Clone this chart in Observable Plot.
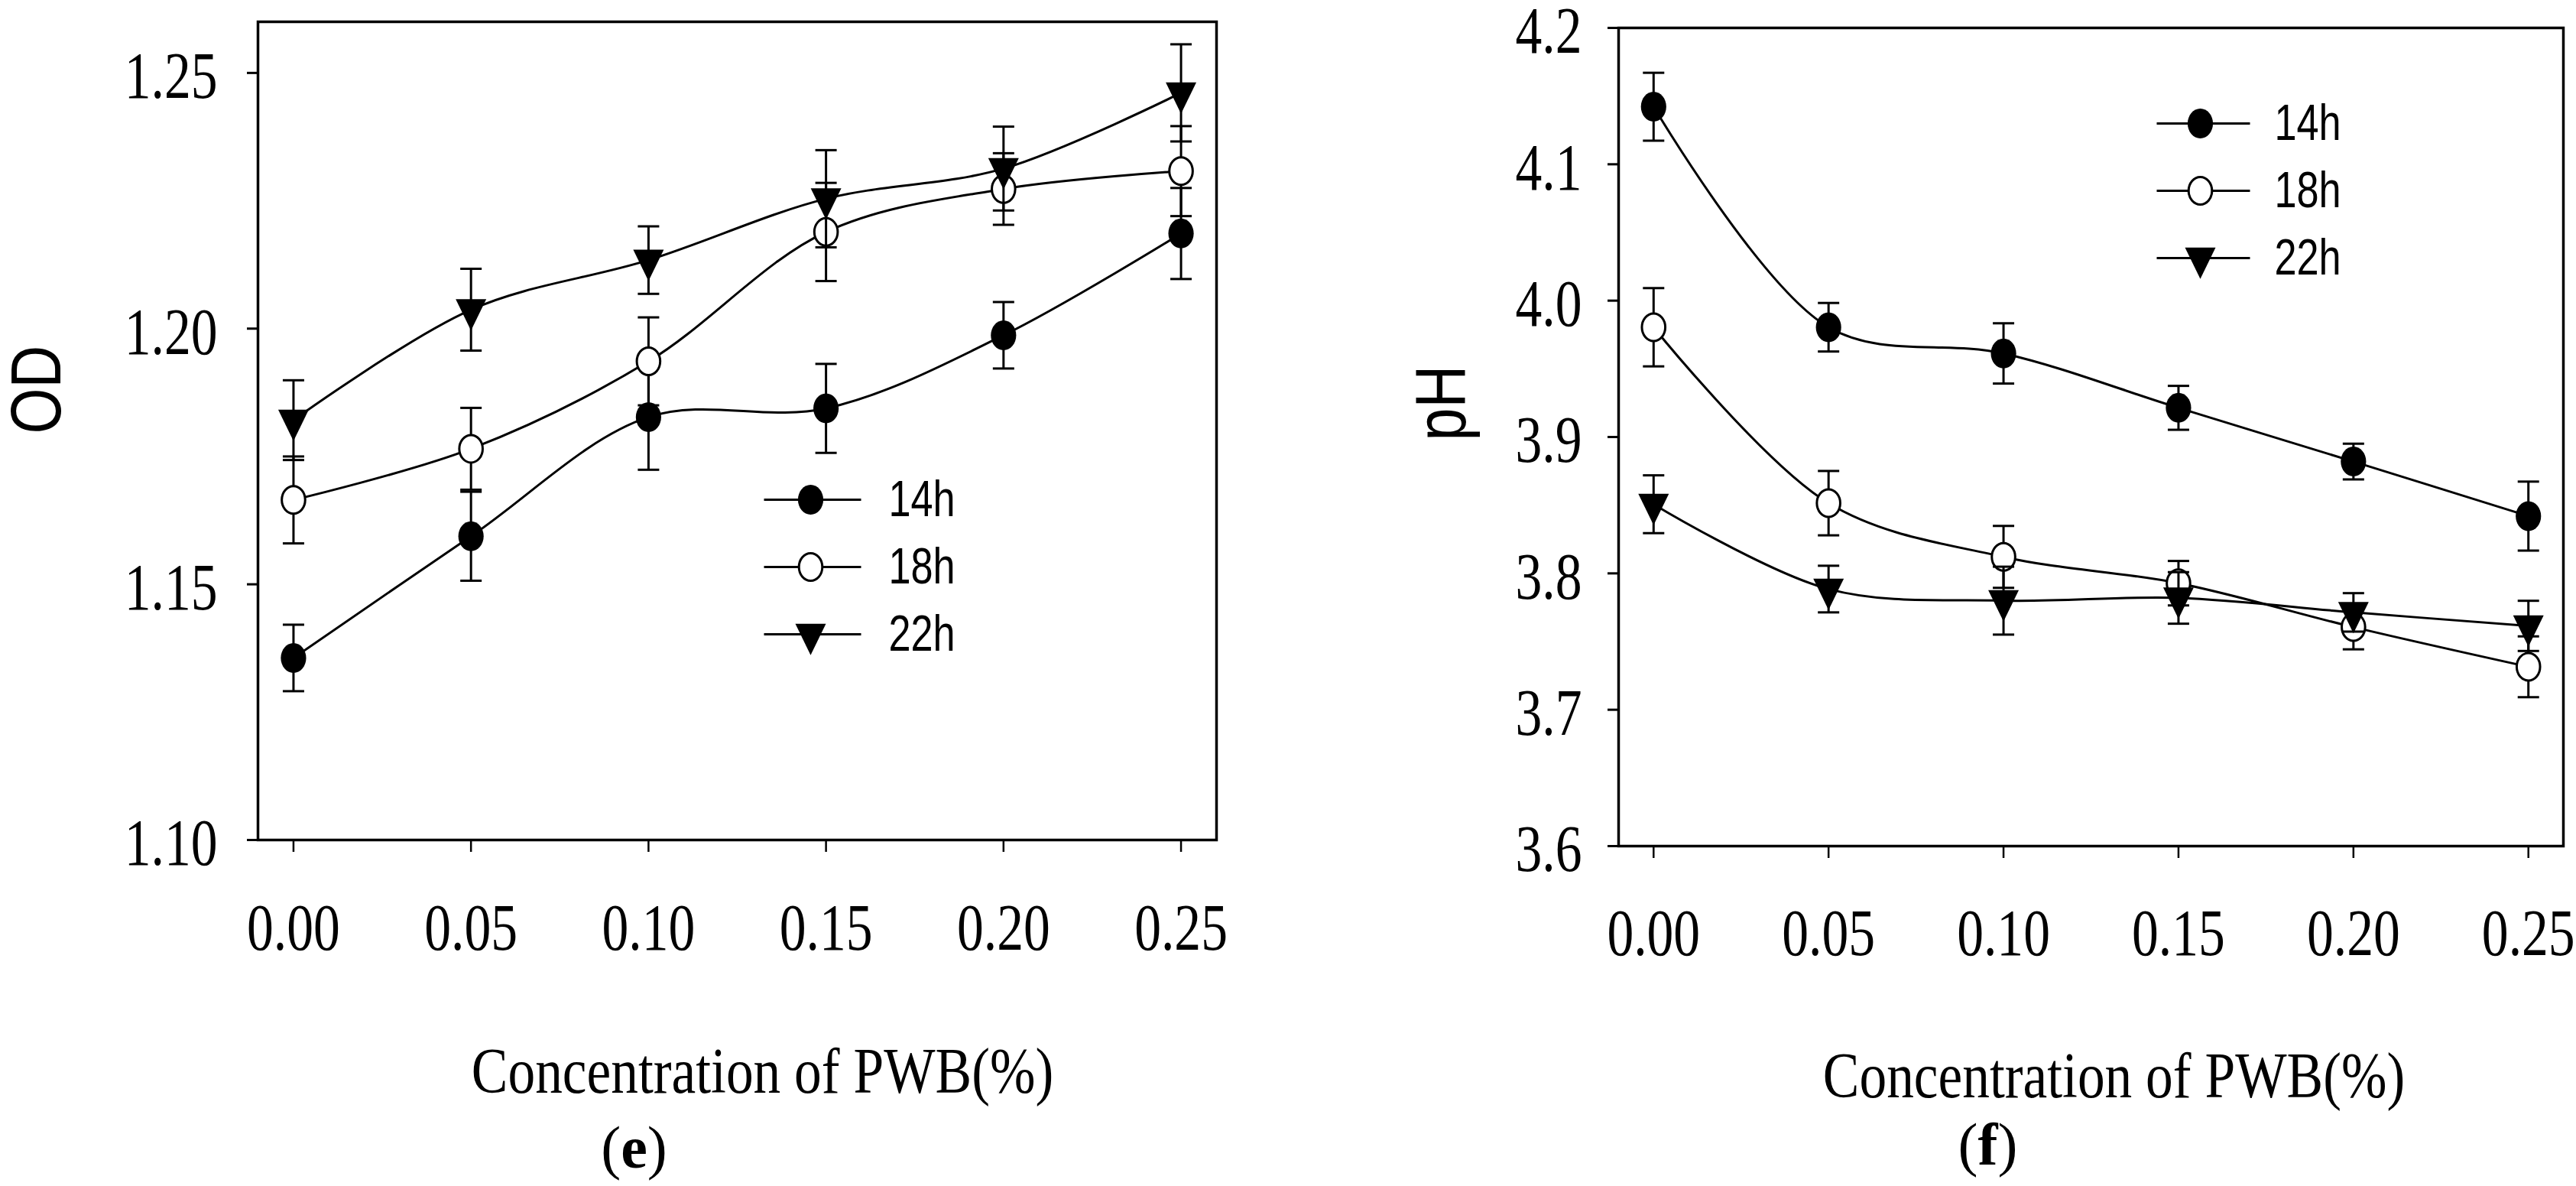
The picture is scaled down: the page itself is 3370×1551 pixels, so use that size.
<!DOCTYPE html>
<html><head><meta charset="utf-8">
<script src="https://cdn.jsdelivr.net/npm/d3@7"></script>
<script src="https://cdn.jsdelivr.net/npm/@observablehq/plot@0.6"></script>
<style>
html,body{margin:0;padding:0;background:#fff;}
#wrap{display:flex;width:3370px;height:1551px;overflow:hidden;}
#wrap svg{display:block;flex:none;}
</style></head><body><div id="wrap"></div>
<script>
// ---- data ----
const conc = [0.00, 0.05, 0.10, 0.15, 0.20, 0.25];
const seriesNames = ["14h", "18h", "22h"];

const od14 = [1.1356, 1.1594, 1.1827, 1.1844, 1.1987, 1.2186];
const od14Err = [0.0065, 0.0087, 0.0103, 0.0087, 0.0065, 0.0089];
const od18 = [1.1665, 1.1765, 1.1936, 1.2189, 1.2273, 1.2308];
const od18Err = [0.0085, 0.0080, 0.0086, 0.0096, 0.0070, 0.0088];
const od22 = [1.1821, 1.2037, 1.2134, 1.2254, 1.2313, 1.2461];
const od22Err = [0.0078, 0.0080, 0.0066, 0.0095, 0.0082, 0.0095];

const ph14 = [4.1422, 3.9805, 3.9613, 3.9214, 3.8820, 3.8420];
const ph14Err = [0.0249, 0.0178, 0.0221, 0.0161, 0.0131, 0.0253];
const ph18 = [3.9805, 3.8515, 3.8121, 3.7928, 3.7606, 3.7315];
const ph18Err = [0.0287, 0.0236, 0.0227, 0.0163, 0.0163, 0.0223];
const ph22 = [3.8507, 3.7885, 3.7800, 3.7820, 3.7714, 3.7615];
const ph22Err = [0.0212, 0.0171, 0.0249, 0.0189, 0.0141, 0.0184];

const odTicks = [1.10, 1.15, 1.20, 1.25];
const phTicks = [3.6, 3.7, 3.8, 3.9, 4.0, 4.1, 4.2];
const xTitle = "Concentration of PWB(%)";

// ---- symbols ----
const K = 0.5523;
const ellipse = {draw(ctx, size) {
  const ry = Math.sqrt(size / Math.PI), rx = ry * 0.85;
  ctx.moveTo(rx, 0);
  ctx.bezierCurveTo(rx, ry * K, rx * K, ry, 0, ry);
  ctx.bezierCurveTo(-rx * K, ry, -rx, ry * K, -rx, 0);
  ctx.bezierCurveTo(-rx, -ry * K, -rx * K, -ry, 0, -ry);
  ctx.bezierCurveTo(rx * K, -ry, rx, -ry * K, rx, 0);
  ctx.closePath();
}};
const triDown = {draw(ctx, size) {
  const r = Math.sqrt(size / Math.PI);
  ctx.moveTo(-1.333 * r, -0.913 * r);
  ctx.lineTo(1.333 * r, -0.913 * r);
  ctx.lineTo(0, 1.82 * r);
  ctx.closePath();
}};
const capSym = {draw(ctx, size) {
  const r = Math.sqrt(size / Math.PI);
  ctx.moveTo(-r, 0); ctx.lineTo(r, 0);
}};
const hline = (a, b) => ({draw(ctx) { ctx.moveTo(a, 0); ctx.lineTo(b, 0); }});

const styles = {
  "14h": {symbol: ellipse, r: 19.5, fill: "black", strokeWidth: 0},
  "18h": {symbol: ellipse, r: 18, fill: "white", strokeWidth: 3},
  "22h": {symbol: triDown, r: 15, fill: "black", strokeWidth: 0}
};

function makePanel(cfg) {
  const marks = [
    Plot.frame({stroke: "black", strokeWidth: 3.5}),
    // tick lines only
    Plot.axisY({ticks: cfg.yTicks, tickFormat: () => "", tickSize: 14, tickPadding: 0,
      fontSize: 1, strokeWidth: 3, label: null}),
    // tick labels only
    Plot.axisY({ticks: cfg.yTicks, tickFormat: d3.format(cfg.yFmt), tickSize: 0, tickPadding: 14 + cfg.yPad, dy: 5,
      fontSize: 87, fontFamily: "Liberation Serif", fill: "black", label: null}),
    Plot.axisX({ticks: conc, tickFormat: d3.format(".2f"), tickSize: 16, tickPadding: cfg.xPad,
      fontSize: 87, fontFamily: "Liberation Serif", strokeWidth: 2.5, label: null})
  ];
  cfg.series.forEach((vals, si) => {
    const name = seriesNames[si];
    const st = styles[name];
    const data = vals.map((v, i) => ({x: conc[i], y: v, e: cfg.errs[si][i]}));
    marks.push(Plot.line(data, {x: "x", y: "y", curve: "catmull-rom", stroke: "black", strokeWidth: 3}));
    marks.push(Plot.ruleX(data, {x: "x", y1: d => d.y - d.e, y2: d => d.y + d.e, stroke: "black", strokeWidth: 3}));
    marks.push(Plot.dot(data, {x: "x", y: d => d.y - d.e, symbol: capSym, r: 14, fill: "none", stroke: "black", strokeWidth: 3}));
    marks.push(Plot.dot(data, {x: "x", y: d => d.y + d.e, symbol: capSym, r: 14, fill: "none", stroke: "black", strokeWidth: 3}));
    marks.push(Plot.dot(data, {x: "x", y: "y", symbol: st.symbol, r: st.r, fill: st.fill, stroke: "black", strokeWidth: st.strokeWidth}));
    // legend row
    const L = cfg.legend;
    const dy = L.dy + si * L.step;
    marks.push(Plot.dot([name], {frameAnchor: "top-left", dx: L.dx, dy, symbol: hline(L.a, L.b), r: 10, fill: "none", stroke: "black", strokeWidth: 3}));
    marks.push(Plot.dot([name], {frameAnchor: "top-left", dx: L.dx, dy, symbol: st.symbol, r: st.r, fill: st.fill, stroke: "black", strokeWidth: st.strokeWidth}));
    marks.push(Plot.text([name], {text: d => d, frameAnchor: "top-left", dx: L.tx, dy, textAnchor: "start", lineAnchor: "middle",
      fontFamily: "Liberation Sans", fontSize: 67, fill: "black"}));
  });
  marks.push(Plot.text([xTitle], {text: d => d, frameAnchor: "bottom", dx: cfg.title.dx, dy: cfg.title.dy, lineAnchor: "top",
    fontFamily: "Liberation Serif", fontSize: 85, fill: "black"}));
  marks.push(Plot.text([cfg.panelLabel], {text: d => d, frameAnchor: "bottom", dx: cfg.pl.dx, dy: cfg.pl.dy, lineAnchor: "top",
    fontFamily: "Liberation Serif", fontSize: 78, fill: "black"}));
  marks.push(Plot.text([cfg.yLabel], {text: d => d, frameAnchor: "left", dx: cfg.yl.dx, dy: cfg.yl.dy, rotate: -90,
    fontFamily: "Liberation Sans", fontSize: 93, fill: "black"}));

  const svg = Plot.plot({
    width: 1685, height: 1551,
    marginLeft: cfg.m[0], marginRight: cfg.m[1], marginTop: cfg.m[2], marginBottom: cfg.m[3],
    x: {domain: [-0.01, 0.26], label: null},
    y: {domain: cfg.yDomain, label: null},
    style: {background: "white", color: "black", overflow: "visible"},
    marks
  });
  condense(svg);
  return svg;
}

// narrow the glyphs horizontally (the original uses condensed type)
function condense(svg) {
  svg.querySelectorAll("text").forEach(t => {
    const famEl = t.closest("[font-family]");
    const fam = famEl ? famEl.getAttribute("font-family") : "";
    const txt = t.textContent;
    let s = txt === xTitle ? 0.84 : 0.80;
    if (/Sans/.test(fam)) s = /h$/.test(txt) ? 0.78 : 0.83;
    const m = /^\((\w)\)$/.exec(txt);
    if (m) {
      s = 1;
      t.textContent = "(";
      const ts = document.createElementNS("http://www.w3.org/2000/svg", "tspan");
      ts.setAttribute("font-weight", "bold");
      ts.textContent = m[1];
      t.appendChild(ts);
      t.appendChild(document.createTextNode(")"));
    }
    if (s === 1) return;
    const x = parseFloat(t.getAttribute("x")) || 0;
    const tr = t.getAttribute("transform") || "";
    t.setAttribute("transform", `${tr} translate(${x},0) scale(${s},1) translate(${-x},0)`);
  });
}

const wrap = document.getElementById("wrap");
wrap.appendChild(makePanel({
  series: [od14, od18, od22], errs: [od14Err, od18Err, od22Err],
  yDomain: [1.10, 1.26], yTicks: odTicks, yFmt: ".2f", yLabel: "OD", panelLabel: "(e)",
  m: [337, 94, 28, 453], xPad: 66, yPad: 39,
  legend: {dx: 723, dy: 625, step: 88, tx: 825, a: -61, b: 66},
  title: {dx: 33, dy: 270}, pl: {dx: -135, dy: 373}, yl: {dx: -288, dy: 4}
}));
wrap.appendChild(makePanel({
  series: [ph14, ph18, ph22], errs: [ph14Err, ph18Err, ph22Err],
  yDomain: [3.6, 4.2], yTicks: phTicks, yFmt: ".1f", yLabel: "pH", panelLabel: "(f)",
  m: [432, 17, 36, 445], xPad: 65, yPad: 34,
  legend: {dx: 761, dy: 125, step: 88, tx: 858, a: -57, b: 65},
  title: {dx: 30, dy: 268}, pl: {dx: -135, dy: 361}, yl: {dx: -230, dy: 5}
}));
</script>
</body></html>
